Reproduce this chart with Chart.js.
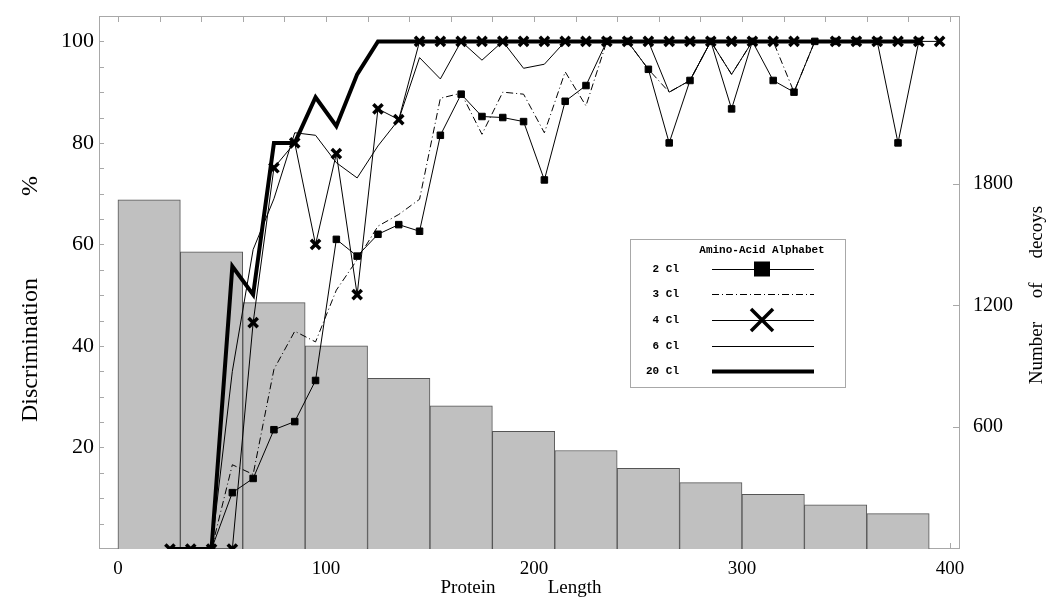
<!DOCTYPE html>
<html>
<head>
<meta charset="utf-8">
<script src="https://cdn.jsdelivr.net/npm/chart.js@4.4.0/dist/chart.umd.min.js"></script>
<style>
  body { margin: 0; background: #fff; }
</style>
</head>
<body>
<canvas id="lengthChart" width="1054" height="616"></canvas>
<script>
// Protein length of each point (x), one point every 10 residues
const lengths = [25, 35, 45, 55, 65, 75, 85, 95, 105, 115, 125, 135, 145, 155, 165, 175, 185, 195, 205,
                 215, 225, 235, 245, 255, 265, 275, 285, 295, 305, 315, 325, 335, 345, 355, 365, 375, 385, 395];

// Discrimination % for each amino-acid alphabet size
const cl2 = [null, null, 0, 11.1, 13.9, 23.5, 25.1, 33.2, 61, 57.7, 62, 63.9, 62.6, 81.5, 89.6, 85.2, 85, 84.2, 72.7,
             88.2, 91.3, 100, 100, 94.5, 80, 92.3, 100, 86.7, 100, 92.3, 90, 100, 100, 100, 100, 80, 100, null];
const cl3 = [0, 0, 0, 16.6, 14.7, 35.4, 42.9, 40.8, 51, 57, 63.6, 65.9, 68.9, 88.8, 89.8, 81.7, 90, 89.6, 82,
             94, 87.3, 100, 100, 94.5, 90, 92.3, 100, 93.5, 100, 100, 90, 100, 100, 100, 100, 100, 100, null];
const cl4 = [0, 0, 0, 0, 44.6, 75.1, 80, 60, 77.9, 50.1, 86.7, 84.6, 100, 100, 100, 100, 100, 100, 100,
             100, 100, 100, 100, 100, 100, 100, 100, 100, 100, 100, 100, null, 100, 100, 100, 100, 100, 100];
const cl6 = [0, 0, 0, 35, 59, 69, 82, 81.5, 76.1, 73.1, 79.4, 84.6, 96.8, 92.6, 100, 96.3, 100, 94.7, 95.5,
             100, 100, 100, 100, 100, 90, 92.3, 100, 93.5, 100, 100, 100, 100, 100, 100, 100, 100, 100, null];
const cl20 = [0, 0, 0, 55.7, 50.1, 80, 80, 89, 83.3, 93.5, 100, 100, 100, 100, 100, 100, 100, 100, 100,
              100, 100, 100, 100, 100, 100, 100, 100, 100, 100, 100, 100, 100, 100, 100, 100, 100, 100, null];

// Histogram of decoys, bins of 30 residues (bin centres)
const binCenters = [15, 45, 75, 105, 135, 165, 195, 225, 255, 285, 315, 345, 375];
const decoyCounts = [1720, 1464, 1213, 1000, 841, 705, 580, 485, 397, 327, 269, 218, 174];

// Axis tick labels
const xTickValues = [0, 100, 200, 300, 400];
const leftTickValues = [20, 40, 60, 80, 100];
const rightTickValues = [600, 1200, 1800];

const legendLabels = ['2 Cl', '3 Cl', '4 Cl', '6 Cl', '20 Cl'];

const serif = '"Liberation Serif", "DejaVu Serif", serif';
const mono = '"Liberation Mono", "DejaVu Sans Mono", monospace';

function toPoints(values) {
    return values.map((v, i) => ({ x: lengths[i], y: v }));
}

// frame and inward tick marks (Mathematica style)
const framePlugin = {
    id: 'frame',
    beforeDatasetsDraw(chart) {
        const { ctx, chartArea: a, scales } = chart;
        ctx.save();
        ctx.strokeStyle = '#a8a8a8';
        ctx.lineWidth = 1;
        ctx.strokeRect(a.left + 0.5, a.top + 0.5, a.right - a.left - 1, a.bottom - a.top - 1);
        ctx.beginPath();
        for (let v = 0; v <= 400; v += 20) {
            const px = Math.round(scales.x.getPixelForValue(v)) + 0.5;
            ctx.moveTo(px, a.top); ctx.lineTo(px, a.top + 6);
            ctx.moveTo(px, a.bottom); ctx.lineTo(px, a.bottom - 6);
        }
        for (let v = 5; v <= 100; v += 5) {
            const py = Math.round(scales.y.getPixelForValue(v)) + 0.5;
            ctx.moveTo(a.left, py); ctx.lineTo(a.left + 5, py);
        }
        rightTickValues.forEach(v => {
            const py = Math.round(scales.y2.getPixelForValue(v)) + 0.5;
            ctx.moveTo(a.right, py); ctx.lineTo(a.right - 7, py);
        });
        ctx.stroke();
        ctx.restore();
    },
    afterDraw(chart) {
        const { ctx } = chart;
        ctx.save();
        ctx.fillStyle = '#000';
        ctx.font = '19px ' + serif;
        ctx.textBaseline = 'middle';
        ctx.textAlign = 'center';
        ctx.fillText('Protein           Length', 521, 588);

        ctx.font = '24px ' + serif;
        ctx.save();
        ctx.translate(31, 350);
        ctx.rotate(-Math.PI / 2);
        ctx.fillText('Discrimination', 0, 0);
        ctx.restore();
        ctx.save();
        ctx.translate(31, 186);
        ctx.rotate(-Math.PI / 2);
        ctx.fillText('%', 0, 0);
        ctx.restore();

        ctx.font = '19px ' + serif;
        ctx.save();
        ctx.translate(1037, 295);
        ctx.rotate(-Math.PI / 2);
        ctx.fillText('Number     of     decoys', 0, 0);
        ctx.restore();
        ctx.restore();
    }
};

// legend box with the label on the left and line sample on the right
const legendPlugin = {
    id: 'alphabetLegend',
    afterDraw(chart) {
        const { ctx } = chart;
        const box = { left: 630, top: 239, right: 845, bottom: 387 };
        ctx.save();
        ctx.fillStyle = '#fff';
        ctx.fillRect(box.left, box.top, box.right - box.left, box.bottom - box.top);
        ctx.strokeStyle = '#a8a8a8';
        ctx.lineWidth = 1;
        ctx.strokeRect(box.left + 0.5, box.top + 0.5, box.right - box.left, box.bottom - box.top);

        ctx.fillStyle = '#000';
        ctx.font = 'bold 11px ' + mono;
        ctx.textBaseline = 'middle';
        ctx.textAlign = 'center';
        ctx.fillText('Amino-Acid Alphabet', 762, 250);

        const rows = [269, 294, 320, 346, 371];
        const lines = chart.data.datasets.filter(d => d.type === 'line');
        rows.forEach((y, i) => {
            const ds = lines[i];
            ctx.textAlign = 'right';
            ctx.fillStyle = '#000';
            ctx.fillText(legendLabels[i], 679, y);
            ctx.beginPath();
            ctx.strokeStyle = '#000';
            ctx.lineWidth = ds.borderWidth;
            ctx.setLineDash(ds.borderDash || []);
            ctx.moveTo(712, y + 0.5);
            ctx.lineTo(814, y + 0.5);
            ctx.stroke();
            ctx.setLineDash([]);
            if (ds.pointStyle === 'rect') {
                ctx.fillRect(754, y - 7.5, 16, 15);
            } else if (ds.pointStyle === 'crossRot') {
                ctx.lineWidth = 3.5;
                ctx.beginPath();
                ctx.moveTo(751, y - 11); ctx.lineTo(773, y + 11);
                ctx.moveTo(773, y - 11); ctx.lineTo(751, y + 11);
                ctx.stroke();
            }
        });
        ctx.restore();
    }
};

const lineBase = {
    type: 'line',
    yAxisID: 'y',
    borderColor: '#000',
    backgroundColor: '#000',
    borderWidth: 1,
    pointRadius: 0,
    tension: 0,
    fill: false
};

const plainNumber = v => String(v);

// keep the plot frame exactly where the reference has it
function fixBox(size) {
    return s => {
        if (s.isHorizontal()) s.height = size; else s.width = size;
        s.paddingTop = 0; s.paddingBottom = 0; s.paddingLeft = 0; s.paddingRight = 0;
    };
}

const ctx = document.getElementById('lengthChart').getContext('2d');
const lengthChart = new Chart(ctx, {
    type: 'bar',
    data: {
        datasets: [
            Object.assign({}, lineBase, { label: '2 Cl', data: toPoints(cl2), order: 4,
                pointStyle: 'rect', pointRadius: 4.6, pointBorderWidth: 1 }),
            Object.assign({}, lineBase, { label: '3 Cl', data: toPoints(cl3), order: 5,
                borderDash: [7, 3, 1, 3] }),
            Object.assign({}, lineBase, { label: '4 Cl', data: toPoints(cl4), order: 2, spanGaps: true,
                pointStyle: 'crossRot', pointRadius: 6.5, pointBorderWidth: 3.5 }),
            Object.assign({}, lineBase, { label: '6 Cl', data: toPoints(cl6), order: 3 }),
            Object.assign({}, lineBase, { label: '20 Cl', data: toPoints(cl20), order: 1, borderWidth: 4 }),
            {
                type: 'bar',
                label: 'Decoys',
                yAxisID: 'y2',
                data: binCenters.map((c, i) => ({ x: c, y: decoyCounts[i] })),
                backgroundColor: '#c0c0c0',
                borderColor: '#555',
                borderWidth: 1,
                barPercentage: 1,
                categoryPercentage: 1,
                order: 10
            }
        ]
    },
    options: {
        responsive: false,
        animation: false,
        layout: { padding: { top: 16, left: 0, right: 0, bottom: 0 } },
        plugins: {
            legend: { display: false },
            tooltip: { enabled: false }
        },
        scales: {
            x: {
                type: 'linear',
                offset: false,
                min: -9.1,
                max: 404.8,
                grid: { display: false, drawTicks: false },
                border: { display: false },
                afterBuildTicks: s => { s.ticks = xTickValues.map(v => ({ value: v })); },
                afterFit: fixBox(67),
                ticks: { color: '#000', font: { family: serif, size: 19 }, padding: 9, maxRotation: 0,
                         callback: plainNumber }
            },
            y: {
                position: 'left',
                min: 0,
                max: 105,
                grid: { display: false, drawTicks: false },
                border: { display: false },
                afterBuildTicks: s => { s.ticks = leftTickValues.map(v => ({ value: v })); },
                afterFit: fixBox(99),
                ticks: { color: '#000', font: { family: serif, size: 22 }, padding: 5, callback: plainNumber }
            },
            y2: {
                position: 'right',
                min: 0,
                max: 2625,
                grid: { display: false, drawTicks: false },
                border: { display: false },
                afterBuildTicks: s => { s.ticks = rightTickValues.map(v => ({ value: v })); },
                afterFit: fixBox(94),
                ticks: { color: '#000', font: { family: serif, size: 20 }, padding: 13, callback: plainNumber }
            }
        }
    },
    plugins: [framePlugin, legendPlugin]
});
</script>
</body>
</html>
